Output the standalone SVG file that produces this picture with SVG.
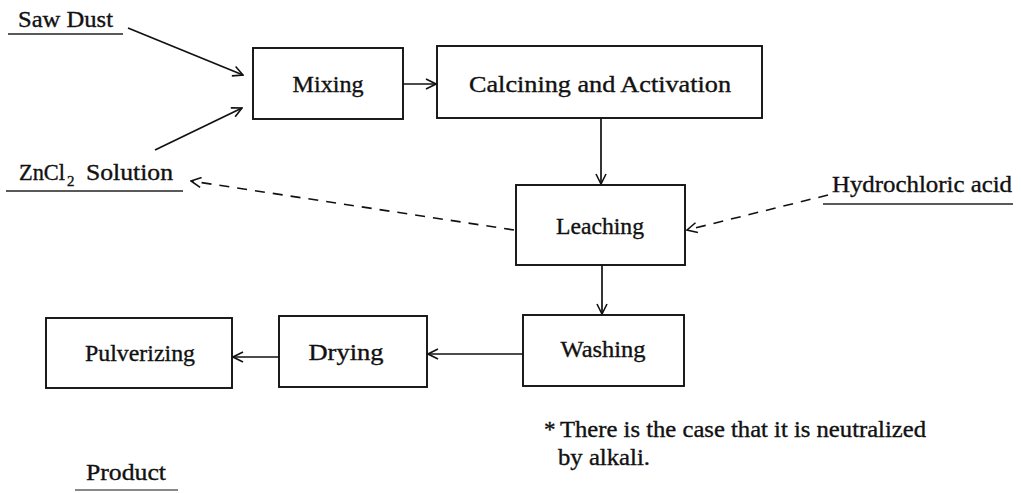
<svg xmlns="http://www.w3.org/2000/svg" width="1022" height="493" viewBox="0 0 1022 493">
  <style>
    .box { fill: #ffffff; stroke: #111111; stroke-width: 1.9; }
    .lbl { font-family: "Liberation Serif", "Times New Roman", serif; font-size: 23px; fill: #111111; stroke: #111111; stroke-width: 0.35; }
    .mid { text-anchor: middle; }
    .flow { fill: none; stroke: #111111; stroke-width: 1.7; }
    .dash { fill: none; stroke: #111111; stroke-width: 1.6; stroke-dasharray: 10 8; }
    .rule { stroke: #222222; stroke-width: 1.5; }
  </style>
  <defs>
    <marker id="open" viewBox="0 0 12 12" refX="11" refY="6" markerWidth="12" markerHeight="12" markerUnits="userSpaceOnUse" orient="auto">
      <path d="M1,1 L11,6 L1,11" fill="none" stroke="#111111" stroke-width="1.6"/>
    </marker>
  </defs>
  <rect width="1022" height="493" fill="#ffffff"/>

  <!-- raw materials and chemicals -->
  <g id="saw-dust">
    <text class="lbl" x="18" y="27" textLength="95" lengthAdjust="spacingAndGlyphs">Saw Dust</text>
    <line class="rule" x1="8" y1="34" x2="123" y2="34"/>
  </g>
  <g id="zncl2-solution">
    <text class="lbl" x="19" y="180" textLength="46" lengthAdjust="spacingAndGlyphs">ZnCl</text>
    <text class="lbl" x="67" y="186" style="font-size:15px">2</text>
    <text class="lbl" x="86" y="180" textLength="87" lengthAdjust="spacingAndGlyphs">Solution</text>
    <line class="rule" x1="6" y1="191" x2="183" y2="191"/>
  </g>
  <g id="hydrochloric-acid">
    <text class="lbl" x="832" y="192" textLength="180" lengthAdjust="spacingAndGlyphs">Hydrochloric acid</text>
    <line class="rule" x1="823" y1="204" x2="1013" y2="204"/>
  </g>

  <!-- process steps -->
  <g id="mixing">
    <rect class="box" x="253" y="48" width="150" height="71"/>
    <text class="lbl mid" x="328" y="92" textLength="71" lengthAdjust="spacingAndGlyphs">Mixing</text>
  </g>
  <g id="calcining">
    <rect class="box" x="437" y="46" width="325" height="72"/>
    <text class="lbl mid" x="600" y="92" textLength="262" lengthAdjust="spacingAndGlyphs">Calcining and Activation</text>
  </g>
  <g id="leaching">
    <rect class="box" x="516" y="185" width="169" height="80"/>
    <text class="lbl mid" x="600" y="234" textLength="88" lengthAdjust="spacingAndGlyphs">Leaching</text>
  </g>
  <g id="washing">
    <rect class="box" x="523" y="315" width="161" height="71"/>
    <text class="lbl mid" x="603" y="357" textLength="85" lengthAdjust="spacingAndGlyphs">Washing</text>
  </g>
  <g id="drying">
    <rect class="box" x="279" y="316" width="148" height="71"/>
    <text class="lbl mid" x="346" y="360" textLength="75" lengthAdjust="spacingAndGlyphs">Drying</text>
  </g>
  <g id="pulverizing">
    <rect class="box" x="46" y="318" width="186" height="70"/>
    <text class="lbl mid" x="140" y="361" textLength="110" lengthAdjust="spacingAndGlyphs">Pulverizing</text>
  </g>

  <!-- footnote and product -->
  <g id="note">
    <text class="lbl" x="544" y="437">*</text>
    <text class="lbl" x="560" y="437" textLength="366" lengthAdjust="spacingAndGlyphs">There is the case that it is neutralized</text>
    <text class="lbl" x="558" y="465" textLength="92" lengthAdjust="spacingAndGlyphs">by alkali.</text>
  </g>
  <g id="product">
    <text class="lbl" x="86" y="480" textLength="80" lengthAdjust="spacingAndGlyphs">Product</text>
    <line x1="75" y1="490" x2="178" y2="490" stroke="#888888" stroke-width="2"/>
  </g>

  <!-- connectors -->
  <g id="connectors">
    <line class="flow" x1="128" y1="28" x2="243" y2="75" marker-end="url(#open)"/>
    <line class="flow" x1="155" y1="150" x2="242" y2="108" marker-end="url(#open)"/>
    <line class="flow" x1="403" y1="84" x2="436" y2="84" marker-end="url(#open)"/>
    <line class="flow" x1="601" y1="118" x2="601" y2="184" marker-end="url(#open)"/>
    <line class="flow" x1="602" y1="265" x2="602" y2="314" marker-end="url(#open)"/>
    <line class="flow" x1="523" y1="354" x2="428" y2="354" marker-end="url(#open)"/>
    <line class="flow" x1="279" y1="357" x2="233" y2="357" marker-end="url(#open)"/>
    <line class="dash" x1="514" y1="230" x2="191" y2="181" marker-end="url(#open)"/>
    <line class="dash" x1="828" y1="195" x2="687" y2="230" marker-end="url(#open)"/>
  </g>
</svg>
